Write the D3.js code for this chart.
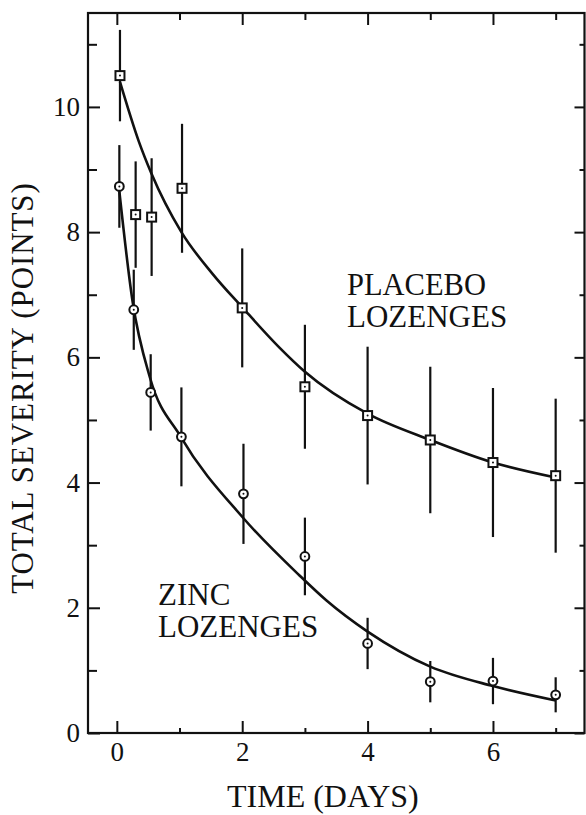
<!DOCTYPE html>
<html><head><meta charset="utf-8">
<script src="https://cdn.jsdelivr.net/npm/d3@7/dist/d3.min.js"></script>
<style>body{margin:0;background:#fff}svg{display:block}</style>
</head><body>
<svg id="c" width="586" height="815"></svg>
<script>
// ---- data ----
const placeboDays = [0.05, 0.30, 0.555, 1.04, 2.0, 3.0, 4.0, 5.0, 6.0, 7.0];
const placeboMean = [10.5, 8.28, 8.24, 8.70, 6.79, 5.53, 5.07, 4.68, 4.32, 4.11];
const placeboErr  = [0.73, 0.85, 0.94, 1.03, 0.95, 0.99, 1.10, 1.17, 1.19, 1.23];
const zincDays = [0.04, 0.27, 0.54, 1.03, 2.02, 3.0, 4.0, 5.0, 6.0, 7.0];
const zincMean = [8.73, 6.76, 5.44, 4.73, 3.82, 2.82, 1.43, 0.82, 0.83, 0.61];
const zincErr  = [0.66, 0.64, 0.61, 0.79, 0.80, 0.62, 0.41, 0.33, 0.37, 0.28];
// fitted curves
const placeboFitDays = [0.05, 0.35, 0.55, 1.03, 1.53, 2.0, 2.59, 3.0, 4.0, 5.0, 6.0, 7.0];
const placeboFitVals = [10.4, 9.45, 8.94, 8.0, 7.33, 6.8, 6.16, 5.77, 5.1, 4.68, 4.32, 4.08];
const zincFitDays = [0.04, 0.25, 0.53, 1.02, 2.02, 2.91, 3.34, 4.0, 5.0, 6.0, 7.0];
const zincFitVals = [8.65, 6.9, 5.67, 4.73, 3.43, 2.52, 2.12, 1.62, 1.06, 0.75, 0.52];
const xMajorTicks = [0, 2, 4, 6];
const xMinorTicks = [1, 3, 5, 7];
const yMajorTicks = [0, 2, 4, 6, 8, 10];
const yMinorTicks = [1, 3, 5, 7, 9, 11];
const xTitle = "TIME (DAYS)";
const yTitle = "TOTAL SEVERITY (POINTS)";
const labels = [["PLACEBO", "LOZENGES"], ["ZINC", "LOZENGES"]];

// ---- layout ----
const FONT = "'Liberation Serif', 'Times New Roman', Times, 'DejaVu Serif', serif";
const L = 88, R = 584.5, T = 13, B = 733;
const x = d3.scaleLinear().domain([-0.46, 7.46]).range([L, R]);
const y = d3.scaleLinear().domain([0, 11.5]).range([B, T]);
const svg = d3.select("#c");
const ink = "#111";

function styleAxis(g, sw) {
  g.attr("font-family", FONT);
  g.select(".domain").remove();
  g.selectAll(".tick line").attr("stroke", ink).attr("stroke-width", sw);
  g.selectAll(".tick text").attr("font-family", FONT).attr("font-size", 27).attr("fill", ink);
}
// bottom
svg.append("g").attr("transform", `translate(0,${B})`)
  .call(d3.axisBottom(x).tickValues(xMajorTicks).tickSizeInner(-12).tickSizeOuter(0).tickPadding(9).tickFormat(d3.format("d")))
  .call(g => styleAxis(g, 2));
svg.append("g").attr("transform", `translate(0,${B})`)
  .call(d3.axisBottom(x).tickValues(xMinorTicks).tickSizeInner(-5).tickSizeOuter(0).tickFormat(""))
  .call(g => styleAxis(g, 2));
// top
svg.append("g").attr("transform", `translate(0,${T})`)
  .call(d3.axisTop(x).tickValues(xMajorTicks).tickSizeInner(-12).tickSizeOuter(0).tickFormat(""))
  .call(g => styleAxis(g, 2));
svg.append("g").attr("transform", `translate(0,${T})`)
  .call(d3.axisTop(x).tickValues(xMinorTicks).tickSizeInner(-7).tickSizeOuter(0).tickFormat(""))
  .call(g => styleAxis(g, 2));
// left
svg.append("g").attr("transform", `translate(${L},0)`)
  .call(d3.axisLeft(y).tickValues(yMajorTicks).tickSizeInner(-12).tickSizeOuter(0).tickPadding(8).tickFormat(d3.format("d")))
  .call(g => styleAxis(g, 2));
svg.append("g").attr("transform", `translate(${L},0)`)
  .call(d3.axisLeft(y).tickValues(yMinorTicks).tickSizeInner(-9).tickSizeOuter(0).tickFormat(""))
  .call(g => styleAxis(g, 2));
// right
svg.append("g").attr("transform", `translate(${R},0)`)
  .call(d3.axisRight(y).tickValues(yMajorTicks).tickSizeInner(-10).tickSizeOuter(0).tickFormat(""))
  .call(g => styleAxis(g, 2));
svg.append("g").attr("transform", `translate(${R},0)`)
  .call(d3.axisRight(y).tickValues(yMinorTicks).tickSizeInner(-5).tickSizeOuter(0).tickFormat(""))
  .call(g => styleAxis(g, 2));
// frame
svg.append("rect").attr("x", L).attr("y", T).attr("width", R - L).attr("height", B - T)
  .attr("fill", "none").attr("stroke", ink).attr("stroke-width", 2.2);

// curves
const line = d3.line().x(d => x(d[0])).y(d => y(d[1])).curve(d3.curveMonotoneX);
svg.append("path").datum(d3.zip(placeboFitDays, placeboFitVals)).attr("d", line)
  .attr("fill", "none").attr("stroke", ink).attr("stroke-width", 2.6);
svg.append("path").datum(d3.zip(zincFitDays, zincFitVals)).attr("d", line)
  .attr("fill", "none").attr("stroke", ink).attr("stroke-width", 2.6);

// error bars + markers
function series(days, mean, err, shape) {
  const data = days.map((d, i) => ({d, m: mean[i], e: err[i]}));
  const g = svg.append("g");
  g.selectAll("line.err").data(data).join("line")
    .attr("x1", p => x(p.d)).attr("x2", p => x(p.d))
    .attr("y1", p => y(p.m + p.e)).attr("y2", p => y(p.m - p.e))
    .attr("stroke", ink).attr("stroke-width", 2.2);
  if (shape === "square") {
    g.selectAll("rect.m").data(data).join("rect")
      .attr("x", p => x(p.d) - 4.5).attr("y", p => y(p.m) - 4.5)
      .attr("width", 9).attr("height", 9)
      .attr("fill", "#fff").attr("stroke", ink).attr("stroke-width", 2);
  } else {
    g.selectAll("circle.m").data(data).join("circle")
      .attr("cx", p => x(p.d)).attr("cy", p => y(p.m)).attr("r", 4.4)
      .attr("fill", "#fff").attr("stroke", ink).attr("stroke-width", 2);
  }
  g.selectAll("circle.dot").data(data).join("circle")
    .attr("cx", p => x(p.d)).attr("cy", p => y(p.m)).attr("r", 1)
    .attr("fill", ink);
}
series(placeboDays, placeboMean, placeboErr, "square");
series(zincDays, zincMean, zincErr, "circle");

function txt(s, size) {
  return svg.append("text").attr("font-family", FONT).attr("font-size", size).attr("fill", ink).text(s);
}
// titles
txt(xTitle, 32).attr("x", 227).attr("y", 807);
txt(yTitle, 31).attr("transform", "translate(33,388) rotate(-90)")
  .attr("text-anchor", "middle").attr("letter-spacing", 0.9);

// series labels
txt(labels[0][0], 30.5).attr("x", 347).attr("y", 295);
txt(labels[0][1], 31).attr("x", 347).attr("y", 327);
txt(labels[1][0], 31).attr("x", 158).attr("y", 605);
txt(labels[1][1], 31).attr("x", 158).attr("y", 637);
</script>
</body></html>
